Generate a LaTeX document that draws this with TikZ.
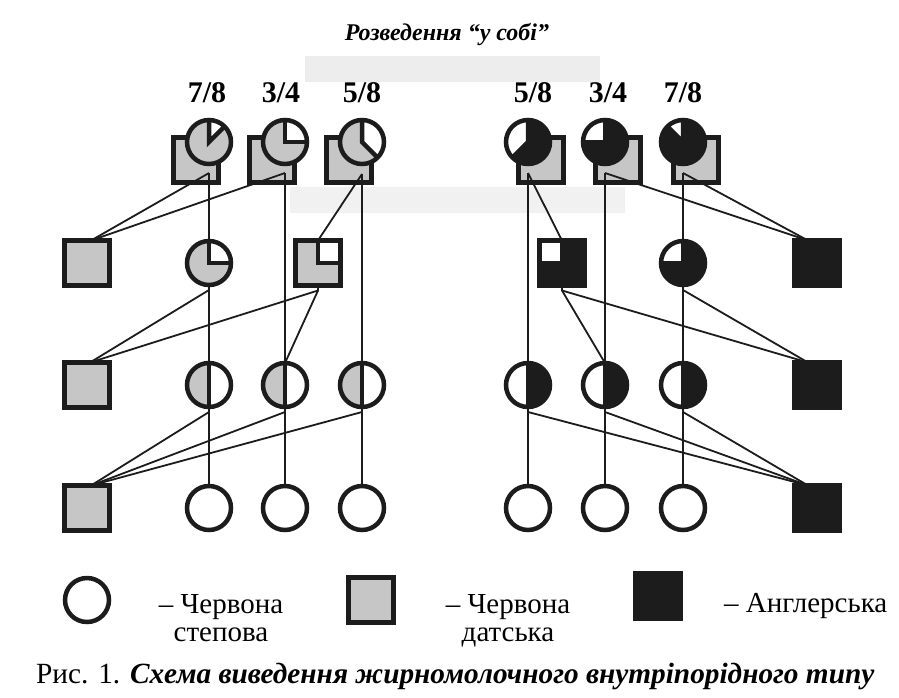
\documentclass[tikz,border=0pt]{standalone}
\usepackage{fontspec}
\setmainfont{Liberation Serif}
\usetikzlibrary{calc}
\definecolor{ink}{HTML}{1C1C1C}
\definecolor{dgray}{HTML}{C6C6C6}
\pgfdeclarelayer{back}
\pgfdeclarelayer{lines}
\pgfsetlayers{back,lines,main}
\begin{document}
\begin{tikzpicture}[x=1pt,y=-1pt,
  conn/.style={draw=ink, line width=1.8pt},
  sym/.style={inner sep=0pt, outer sep=0pt, postaction={draw=ink, line width=4.5pt}},
  circ/.style={sym, circle, minimum size=44pt},
  sqr/.style={sym, rectangle, minimum size=45pt},
  wedge/.style n args={3}{path picture={
     \fill[#3] (path picture bounding box.center) -- ++(#1:40pt)
        arc[start angle=#1, end angle=#2, radius=40pt] -- cycle;
     \draw[ink, line width=4.5pt] ($(path picture bounding box.center)+(#1:40pt)$)
        -- (path picture bounding box.center) -- ++(#2:40pt);}},
  frac/.style={font=\fontsize{30}{30}\selectfont\bfseries, anchor=base, inner sep=0pt},
  legtext/.style={font=\fontsize{29}{28}\selectfont, inner sep=0pt},
]
\useasboundingbox (0,0) rectangle (899,697);

% background, scan bands and the squares behind the top row
\begin{pgfonlayer}{back}
  \fill[white] (0,0) rectangle (899,697);
  \fill[gray!14] (305,56) rectangle (600,82);
  \fill[gray!11] (290,187) rectangle (625,213);
  \node[sqr, fill=dgray] (L1s) at (196,160) {};
  \node[sqr, fill=dgray] (L2s) at (272,160) {};
  \node[sqr, fill=dgray] (L3s) at (349,160) {};
  \node[sqr, fill=dgray] (R1s) at (541,160) {};
  \node[sqr, fill=dgray] (R2s) at (618,160) {};
  \node[sqr, fill=dgray] (R3s) at (696,160) {};
\end{pgfonlayer}

% title and fractions
\node[font=\fontsize{24}{24}\selectfont\bfseries\itshape, anchor=base, inner sep=0pt] (title) at (447,40) {Розведення “у собі”};
\node[frac] (f1) at (207,102) {7/8};
\node[frac] (f2) at (281,102) {3/4};
\node[frac] (f3) at (362,102) {5/8};
\node[frac] (f4) at (533,102) {5/8};
\node[frac] (f5) at (608,102) {3/4};
\node[frac] (f6) at (683,102) {7/8};

% row 1 circles
\node[circ, fill=dgray, wedge={45}{90}{white}] (L1c) at (209,142) {};
\node[circ, fill=dgray, wedge={0}{90}{white}] (L2c) at (285,142) {};
\node[circ, fill=dgray, wedge={-45}{90}{white}] (L3c) at (362,142) {};
\node[circ, fill=ink, wedge={90}{225}{white}] (R1c) at (528,142) {};
\node[circ, fill=ink, wedge={90}{180}{white}] (R2c) at (605,142) {};
\node[circ, fill=ink, wedge={90}{135}{white}] (R3c) at (683,142) {};

% row 2
\node[sqr, fill=dgray] (Lq2) at (87,263) {};
\node[circ, fill=dgray, wedge={0}{90}{white}] (Lc2) at (209,263) {};
\node[sqr, fill=dgray, wedge={0}{90}{white}] (Ls2) at (318,263) {};
\node[sqr, fill=ink, wedge={90}{180}{white}] (Rs2) at (562,263) {};
\node[circ, fill=ink, wedge={90}{180}{white}] (Rc2) at (683,263) {};
\node[sqr, fill=ink] (Rq2) at (817,263) {};

% row 3
\node[sqr, fill=dgray] (Lq3) at (87,385) {};
\node[circ, fill=white, wedge={90}{270}{dgray}] (Lc31) at (209,385) {};
\node[circ, fill=white, wedge={90}{270}{dgray}] (Lc32) at (285,385) {};
\node[circ, fill=white, wedge={90}{270}{dgray}] (Lc33) at (362,385) {};
\node[circ, fill=white, wedge={-90}{90}{ink}] (Rc31) at (528,385) {};
\node[circ, fill=white, wedge={-90}{90}{ink}] (Rc32) at (605,385) {};
\node[circ, fill=white, wedge={-90}{90}{ink}] (Rc33) at (683,385) {};
\node[sqr, fill=ink] (Rq3) at (817,385) {};

% row 4
\node[sqr, fill=dgray] (Lq4) at (87,508) {};
\node[circ, fill=white] (Lc41) at (209,508) {};
\node[circ, fill=white] (Lc42) at (285,508) {};
\node[circ, fill=white] (Lc43) at (362,508) {};
\node[circ, fill=white] (Rc41) at (528,508) {};
\node[circ, fill=white] (Rc42) at (605,508) {};
\node[circ, fill=white] (Rc43) at (683,508) {};
\node[sqr, fill=ink] (Rq4) at (817,508) {};

% connectors
\begin{pgfonlayer}{lines}
  \coordinate (L1a) at ([yshift=-31pt]L1c.center);
  \coordinate (L2a) at ([yshift=-31pt]L2c.center);
  \coordinate (L3a) at ([yshift=-32pt]L3c.center);
  \coordinate (R1a) at ([yshift=-31pt]R1c.center);
  \coordinate (R2a) at ([yshift=-31pt]R2c.center);
  \coordinate (R3a) at ([yshift=-31pt]R3c.center);
  \coordinate (Lc2b) at ([yshift=-5pt]Lc2.south);
  \coordinate (Ls2b) at ([yshift=-5pt]Ls2.south);
  \coordinate (Rs2b) at ([yshift=-5pt]Rs2.south);
  \coordinate (Rc2b) at ([yshift=-5pt]Rc2.south);
  \foreach \n in {Lc31,Lc32,Lc33,Rc31,Rc32,Rc33}{
    \coordinate (\n b) at ([yshift=-5pt]\n.south);
  }
  \coordinate (Lq2t) at ([xshift=4pt]Lq2.north);
  \coordinate (Lq3t) at ([xshift=3pt]Lq3.north);
  \coordinate (Lq4t) at ([xshift=4pt]Lq4.north);
  \coordinate (Rq2t) at ([xshift=-9pt]Rq2.north);
  \coordinate (Rq3t) at ([xshift=-9pt]Rq3.north);
  \coordinate (Rq4t) at ([xshift=-9pt]Rq4.north);
  % left, row 1 -> 2
  \draw[conn] (L1a) -- (Lq2t);
  \draw[conn] (L2a) -- (Lq2t);
  \draw[conn] (L1a) -- (Lc2.north);
  \draw[conn] (L3a) -- (Ls2.north);
  \draw[conn] (L2a) -- (Lc32.north);
  \draw[conn] (L3a) -- (Lc33.north);
  % left, row 2 -> 3
  \draw[conn] (Lc2.south) -- (Lc2b) -- (Lq3t);
  \draw[conn] (Ls2.south) -- (Ls2b) -- (Lq3t);
  \draw[conn] (Lc2b) -- (Lc31.north);
  \draw[conn] (Ls2b) -- (Lc32.north);
  % left, row 3 -> 4
  \draw[conn] (Lc31.south) -- (Lc31b) -- (Lq4t);
  \draw[conn] (Lc32.south) -- (Lc32b) -- (Lq4t);
  \draw[conn] (Lc33.south) -- (Lc33b) -- (Lq4t);
  \draw[conn] (Lc31b) -- (Lc41.north);
  \draw[conn] (Lc32b) -- (Lc42.north);
  \draw[conn] (Lc33b) -- (Lc43.north);
  % right, row 1 -> 2
  \draw[conn] (R1a) -- (Rs2.north);
  \draw[conn] (R2a) -- (Rq2t);
  \draw[conn] (R3a) -- (Rq2t);
  \draw[conn] (R1a) -- (Rc31.north);
  \draw[conn] (R2a) -- (Rc32.north);
  \draw[conn] (R3a) -- (Rc2.north);
  % right, row 2 -> 3
  \draw[conn] (Rs2.south) -- (Rs2b) -- (Rc32.north);
  \draw[conn] (Rs2b) -- (Rq3t);
  \draw[conn] (Rc2.south) -- (Rc2b) -- (Rq3t);
  \draw[conn] (Rc2b) -- (Rc33.north);
  % right, row 3 -> 4
  \draw[conn] (Rc31.south) -- (Rc31b) -- (Rq4t);
  \draw[conn] (Rc32.south) -- (Rc32b) -- (Rq4t);
  \draw[conn] (Rc33.south) -- (Rc33b) -- (Rq4t);
  \draw[conn] (Rc31b) -- (Rc41.north);
  \draw[conn] (Rc32b) -- (Rc42.north);
  \draw[conn] (Rc33b) -- (Rc43.north);
\end{pgfonlayer}

% legend
\node[circ, fill=white] (kc) at (87,600) {};
\node[sqr, fill=dgray] (kg) at (371,600) {};
\node[sqr, fill=ink] (kb) at (658,596) {};
\node[legtext, align=center, anchor=north] (kt1) at (221,594) {– Червона\\степова};
\node[legtext, align=center, anchor=north] (kt2) at (508,594) {– Червона\\датська};
\node[legtext, anchor=base west] (kt3) at (724,612) {– Англерська};

% caption
\node[font=\fontsize{29.3}{29}\selectfont, anchor=base west, inner sep=0pt] (cap) at (36,683)
  {Рис. 1. \textbf{\textit{Схема виведення жирномолочного внутріпорідного типу}}};
\end{tikzpicture}
\end{document}
